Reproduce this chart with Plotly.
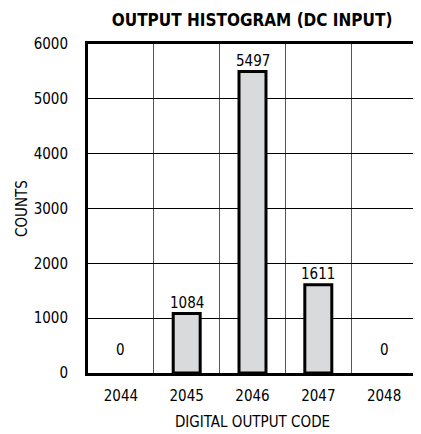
import plotly.graph_objects as go

codes = [2044, 2045, 2046, 2047, 2048]
counts = [0, 1084, 5497, 1611, 0]
y_ticks = [0, 1000, 2000, 3000, 4000, 5000, 6000]

FONT = "DejaVu Sans Condensed, Liberation Sans Narrow, Roboto, sans-serif"

fig = go.Figure()
fig.add_trace(go.Bar(
    x=codes, y=counts, width=0.41,
    marker=dict(color="#d9dadb",
                line=dict(color="black", width=[3 if v > 0 else 0 for v in counts])),
    showlegend=False,
))

for c, v in zip(codes, counts):
    fig.add_annotation(x=c, y=v, text=str(v), showarrow=False,
                       yanchor="bottom", yshift=0 if v > 0 else 12,
                       font=dict(family=FONT, size=15, color="black"))

# page body has an 8px default margin, so the figure is 8px smaller
fig.update_layout(
    width=413, height=426,
    margin=dict(l=80, r=4, t=36, b=61),
    paper_bgcolor="white", plot_bgcolor="white",
    title=dict(text="<b>OUTPUT HISTOGRAM (DC INPUT)</b>", x=0.591, xanchor="center",
               y=0.972, yanchor="middle",
               font=dict(family=FONT, size=17, color="black")),
    font=dict(family=FONT, size=15, color="black"),
)
fig.update_xaxes(
    automargin=False,
    range=[2043.5, 2048.5], tickvals=codes, ticktext=[str(c) for c in codes],
    showgrid=False, zeroline=False,
    showline=True, linecolor="black", linewidth=3, mirror=True,
    ticks="outside", ticklen=7, tickcolor="rgba(0,0,0,0)",
    minor=dict(tick0=2043.5, dtick=1, showgrid=True, gridcolor="#555", gridwidth=1),
    title=dict(text="DIGITAL OUTPUT CODE", standoff=13, font=dict(family=FONT, size=15)),
)
fig.update_yaxes(
    automargin=False,
    range=[0, 6000], tickvals=y_ticks, showgrid=True, gridcolor="black", gridwidth=1,
    zeroline=False, showline=True, linecolor="black", linewidth=3, mirror=True,
    ticks="outside", ticklen=14, tickcolor="rgba(0,0,0,0)",
    title=dict(text="COUNTS", standoff=3, font=dict(family=FONT, size=15)),
)

fig.write_html("out.html")
